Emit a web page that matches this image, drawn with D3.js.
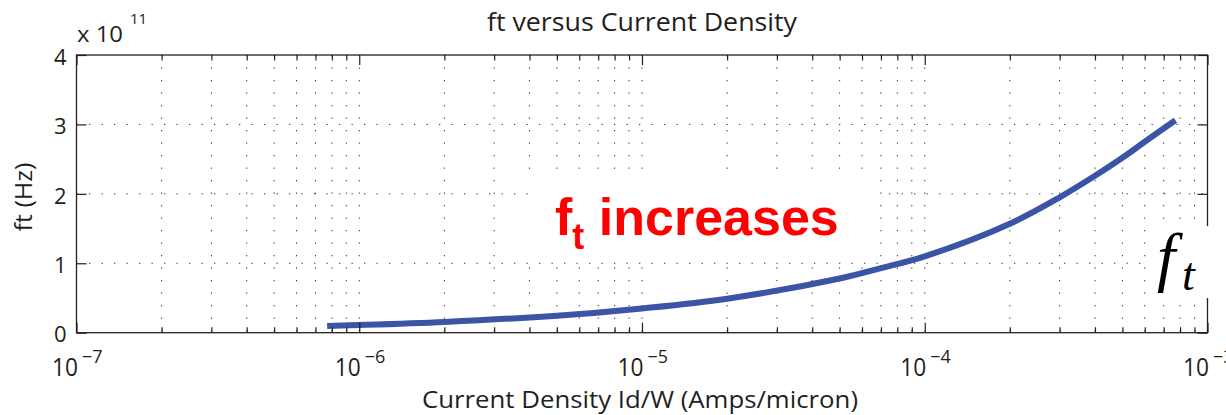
<!DOCTYPE html>
<html>
<head>
<meta charset="utf-8">
<script src="https://cdn.jsdelivr.net/npm/d3@7"></script>
<style>
  html, body { margin: 0; padding: 0; background: #fff; }
  svg { display: block; }
  text { font-family: "Open Sans", "Noto Sans", sans-serif; fill: #231f20; }
</style>
</head>
<body>
<svg id="chart" width="1226" height="415"></svg>
<script>
// ---- data ----
const currentDensity = [7.7e-7, 1e-6, 2e-6, 5e-6, 1e-5, 2e-5, 5e-5, 7e-5, 1e-4, 2e-4, 3e-4, 4e-4, 5e-4, 6e-4, 7.7e-4];
const ftValues      = [0.097, 0.11, 0.155, 0.245, 0.35, 0.49, 0.78, 0.93, 1.10, 1.57, 1.95, 2.26, 2.52, 2.75, 3.06]; // x 1e11 Hz
const xMajorTicks = [1e-7, 1e-6, 1e-5, 1e-4, 1e-3];
const xTickExponents = ["\u22127", "\u22126", "\u22125", "\u22124", "\u22123"];
const yTicks = [0, 1, 2, 3, 4];
const titleText = "ft versus Current Density";
const xLabelText = "Current Density Id/W (Amps/micron)";
const yLabelText = "ft (Hz)";

// ---- layout ----
const L = 76.5, R = 1207.5, T = 55, B = 332.7;
const svg = d3.select("#chart");
const x = d3.scaleLog().domain([1e-7, 1e-3]).range([L, R]);
const y = d3.scaleLinear().domain([0, 4]).range([B, T]);

const xMinorTicks = [];
for (let e = -7; e < -3; e++) for (let m = 2; m <= 9; m++) xMinorTicks.push(m * Math.pow(10, e));
const xGridTicks = xMinorTicks.concat(xMajorTicks.slice(1, -1));

// ---- grid ----
const grid = svg.append("g").attr("class", "grid");
grid.selectAll("line.vg").data(xGridTicks).join("line")
  .attr("x1", d => x(d)).attr("x2", d => x(d))
  .attr("y1", T).attr("y2", B)
  .attr("stroke", "#333").attr("stroke-width", 1)
  .attr("stroke-dasharray", "1.3,11.2");
grid.selectAll("line.hg").data(yTicks.slice(1, -1)).join("line")
  .attr("x1", L).attr("x2", R)
  .attr("y1", d => y(d)).attr("y2", d => y(d))
  .attr("stroke", "#333").attr("stroke-width", 1)
  .attr("stroke-dasharray", "1.3,11.2");

// ---- curve ----
const pts = currentDensity.map((c, i) => [c, ftValues[i]]);
svg.append("path")
  .datum(pts)
  .attr("fill", "none")
  .attr("stroke", "#3a54a6")
  .attr("stroke-width", 6)
  .attr("stroke-linecap", "butt")
  .attr("d", d3.line().x(d => x(d[0])).y(d => y(d[1])).curve(d3.curveCatmullRom.alpha(0.5)));

// ---- annotation "f_t increases" with white box ----
svg.append("rect").attr("x", 528).attr("y", 176).attr("width", 352).attr("height", 85).attr("fill", "#fff");
const ann = svg.append("text")
  .attr("x", 555).attr("y", 235)
  .style("font-family", "'Liberation Sans', Arial, sans-serif")
  .style("font-weight", "bold")
  .style("fill", "#ff0000")
  .style("font-size", "52px");
ann.append("tspan").text("f");
ann.append("tspan").attr("dy", 14).style("font-size", "36px").text("t");
ann.append("tspan").attr("dy", -14).text(" increases");

// ---- box ----
svg.append("rect").attr("x", L).attr("y", T).attr("width", R - L).attr("height", B - T)
  .attr("fill", "none").attr("stroke", "#231f20").attr("stroke-width", 1.3);

// ---- axes (ticks inside) ----
function styleAxis(g) { g.select(".domain").remove(); g.selectAll("line").attr("stroke", "#231f20").attr("stroke-width", 1.2); }
svg.append("g").attr("transform", `translate(0,${B})`)
  .call(d3.axisBottom(x).tickValues(xMinorTicks).tickSizeInner(-5.5).tickSizeOuter(0).tickFormat(""))
  .call(styleAxis);
svg.append("g").attr("transform", `translate(0,${T})`)
  .call(d3.axisTop(x).tickValues(xMinorTicks).tickSizeInner(-5.5).tickSizeOuter(0).tickFormat(""))
  .call(styleAxis);
const xb = svg.append("g").attr("transform", `translate(0,${B})`)
  .call(d3.axisBottom(x).tickValues(xMajorTicks).tickSizeInner(-10).tickSizeOuter(0).tickFormat(""))
  .call(styleAxis);
svg.append("g").attr("transform", `translate(0,${T})`)
  .call(d3.axisTop(x).tickValues(xMajorTicks).tickSizeInner(-10).tickSizeOuter(0).tickFormat(""))
  .call(styleAxis);
xb.selectAll(".tick").each(function(d, i) {
  const g = d3.select(this);
  g.append("text").attr("x", 1).attr("y", 43).attr("text-anchor", "end")
    .attr("textLength", 26).attr("lengthAdjust", "spacingAndGlyphs")
    .style("font-size", "25px").style("fill", "#231f20").text("10");
  g.append("text").attr("x", 5).attr("y", 30).attr("text-anchor", "start")
    .style("font-size", "18px").style("fill", "#231f20").text(xTickExponents[i]);
});
const yl = svg.append("g").attr("transform", `translate(${L},0)`)
  .call(d3.axisLeft(y).tickValues(yTicks).tickSizeInner(-10).tickSizeOuter(0).tickPadding(10).tickFormat(d3.format("d")))
  .call(styleAxis);
yl.selectAll("text").style("font-size", "22px").style("fill", "#231f20").attr("dy", "0.42em");
svg.append("g").attr("transform", `translate(${R},0)`)
  .call(d3.axisRight(y).tickValues(yTicks).tickSizeInner(-10).tickSizeOuter(0).tickFormat(""))
  .call(styleAxis);

// ---- exponent multiplier ----
svg.append("text").attr("x", 77).attr("y", 42).attr("textLength", 46).attr("lengthAdjust", "spacingAndGlyphs")
  .style("font-size", "22px").text("x 10");
svg.append("text").attr("x", 130).attr("y", 24).style("font-size", "15px").text("11");

// ---- titles ----
svg.append("text").attr("x", 642).attr("y", 31).attr("text-anchor", "middle")
  .attr("textLength", 310).attr("lengthAdjust", "spacingAndGlyphs")
  .style("font-size", "25px").text(titleText);
svg.append("text").attr("x", 640).attr("y", 408).attr("text-anchor", "middle")
  .attr("textLength", 436).attr("lengthAdjust", "spacingAndGlyphs")
  .style("font-size", "23px").text(xLabelText);
svg.append("text").attr("transform", "translate(32,197) rotate(-90)").attr("text-anchor", "middle")
  .attr("textLength", 69).attr("lengthAdjust", "spacingAndGlyphs")
  .style("font-size", "24px").text(yLabelText);

// ---- f_t math label (white box over axis) ----
svg.append("rect").attr("x", 1148).attr("y", 226).attr("width", 68).attr("height", 72).attr("fill", "#fff");
svg.append("text").attr("x", 1157).attr("y", 279)
  .style("font-family", "'Liberation Serif', 'DejaVu Serif', serif").style("font-style", "italic").style("fill", "#000")
  .style("font-size", "66px").text("f");
svg.append("text").attr("x", 1182).attr("y", 290)
  .style("font-family", "'Liberation Serif', 'DejaVu Serif', serif").style("font-style", "italic").style("fill", "#000")
  .style("font-size", "46px").text("t");
</script>
</body>
</html>
